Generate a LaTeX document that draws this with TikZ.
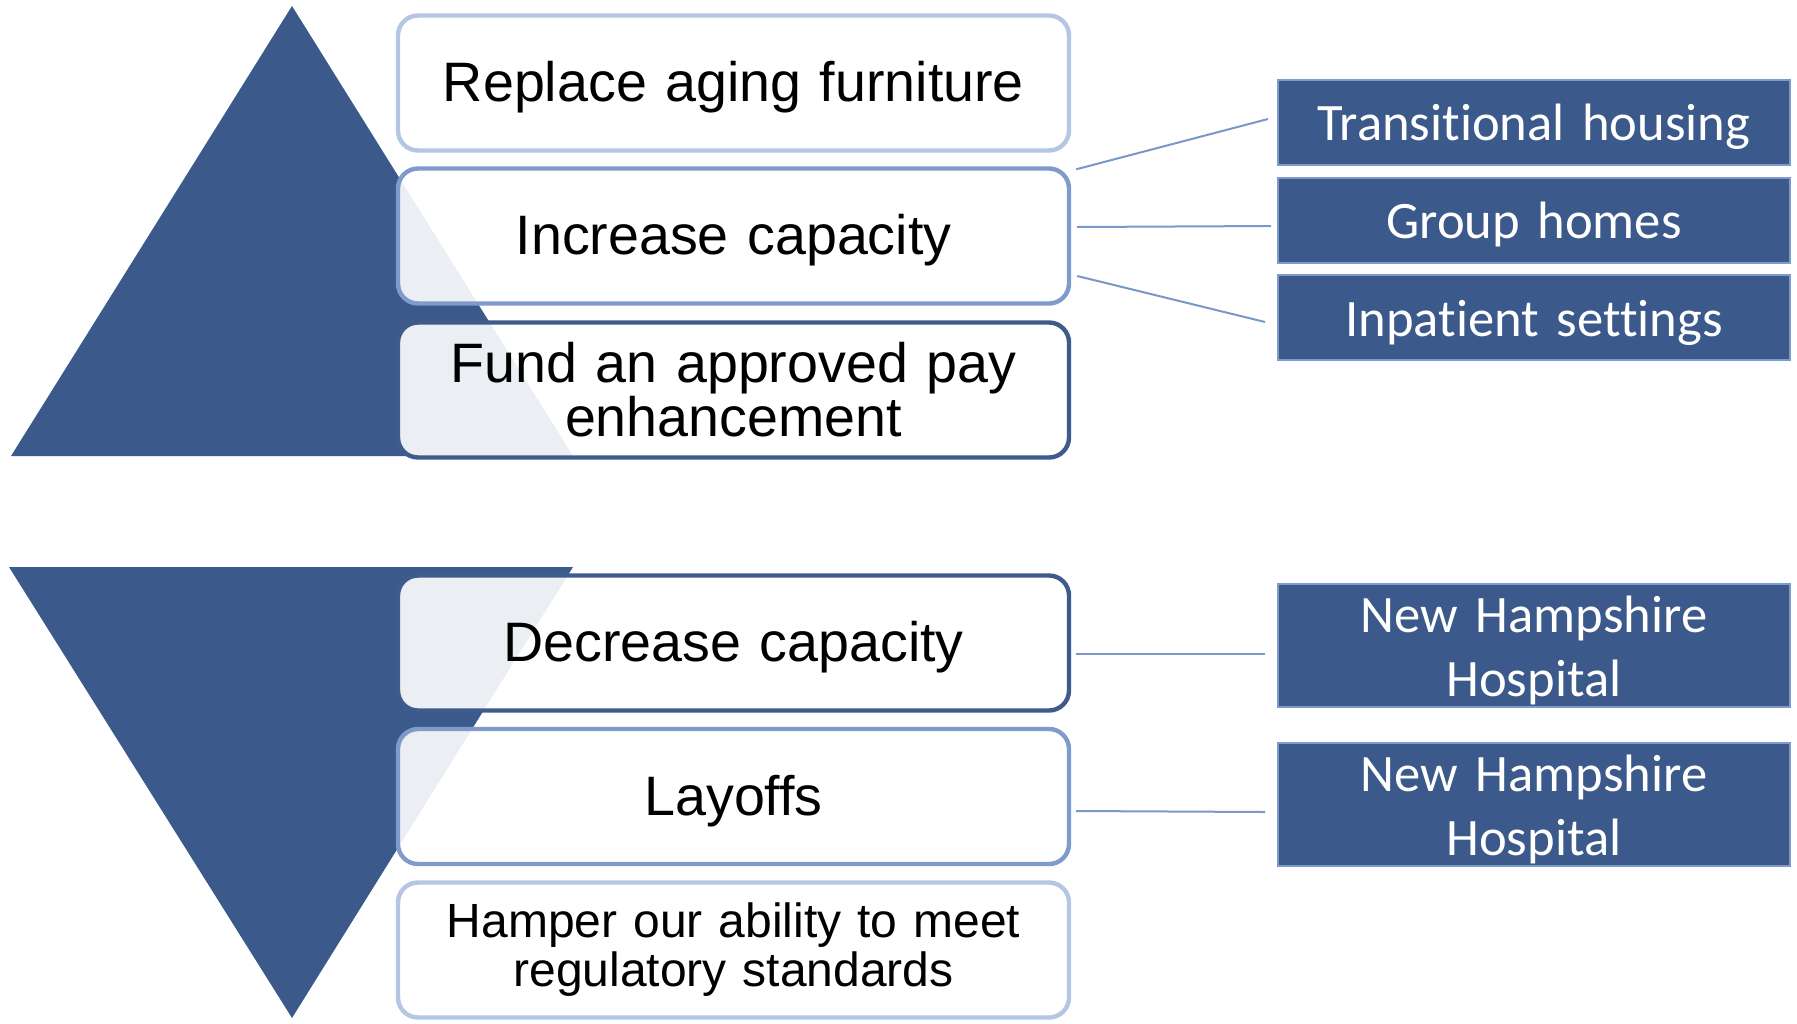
\documentclass[tikz,border=0pt]{standalone}
\usepackage{fontspec}
\setmainfont{Liberation Sans}
\newfontfamily\calibrifont[Ligatures=NoCommon]{Carlito}
\definecolor{pyramid}{RGB}{59,89,138}
\definecolor{edgedark}{RGB}{62,91,140}
\definecolor{edgemid}{RGB}{126,155,204}
\definecolor{edgelight}{RGB}{180,198,227}
\definecolor{linkblue}{RGB}{122,151,201}
\begin{document}
\begin{tikzpicture}[x=0.5pt,y=-0.5pt,
    stage/.style={draw, rounded corners=10pt, fill=white, fill opacity=0.9, text opacity=1,
      line width=2.2pt, minimum width=335.5pt, minimum height=67.5pt, inner sep=4pt,
      align=center, text width=320pt, font=\fontsize{27.8}{27}\selectfont},
    oneline/.style={execute at begin node={\rule{0pt}{0.88em}}},
    detail/.style={draw=edgemid, line width=1pt, fill=pyramid, text=white,
      inner xsep=4pt, inner ysep=0pt, minimum width=256pt, align=center, text width=240pt,
      execute at begin node={\rule{0pt}{0.875em}},
      font=\calibrifont\fontsize{26.3}{32}\selectfont},
    link/.style={draw=linkblue, line width=1pt}]
  \useasboundingbox (0,0) rectangle (1797,1023);
  \fill[pyramid] (292,6) -- (573,456) -- (11,456) -- cycle;
  \fill[pyramid] (9,567) -- (573,567) -- (292,1018) -- cycle;
  \node[stage, oneline, draw=edgelight] (furn) at (733.5,83) {Replace aging furniture};
  \node[stage, oneline, draw=edgemid] (inc) at (733.5,236) {Increase capacity};
  \node[stage, draw=edgedark] (pay) at (733.5,390) {Fund an approved pay\\enhancement};
  \node[stage, oneline, draw=edgedark] (dec) at (733.5,643) {Decrease capacity};
  \node[stage, oneline, draw=edgemid] (lay) at (733.5,796.5) {Layoffs};
  \node[stage, draw=edgelight, font=\fontsize{24}{24.5}\selectfont] (reg) at (733.5,950)
    {Hamper our ability to meet\\regulatory standards};
  \node[detail, minimum height=42.5pt] (trans) at (1534,122.5) {Transitional housing};
  \node[detail, minimum height=42.5pt] (group) at (1534,220) {Group homes};
  \node[detail, minimum height=42.5pt] (inpat) at (1534,317.5) {Inpatient settings};
  \node[detail, minimum height=61.5pt] (nhha) at (1534,645.5) {New Hampshire\\Hospital};
  \node[detail, minimum height=61.5pt] (nhhb) at (1534,804.5) {New Hampshire\\Hospital};
  \draw[link] ([shift={(5,3)}]inc.north east) -- ([shift={(-9,-3.5)}]trans.west);
  \draw[link] ([shift={(6,-9)}]inc.east) -- ([shift={(-6,6)}]group.west);
  \draw[link] ([shift={(6,40)}]inc.east) -- ([shift={(-12,4.5)}]inpat.west);
  \draw[link] ([shift={(5,11)}]dec.east) -- ([shift={(-12,8.5)}]nhha.west);
  \draw[link] ([shift={(5,14.5)}]lay.east) -- ([shift={(-12,7.5)}]nhhb.west);
\end{tikzpicture}
\end{document}
